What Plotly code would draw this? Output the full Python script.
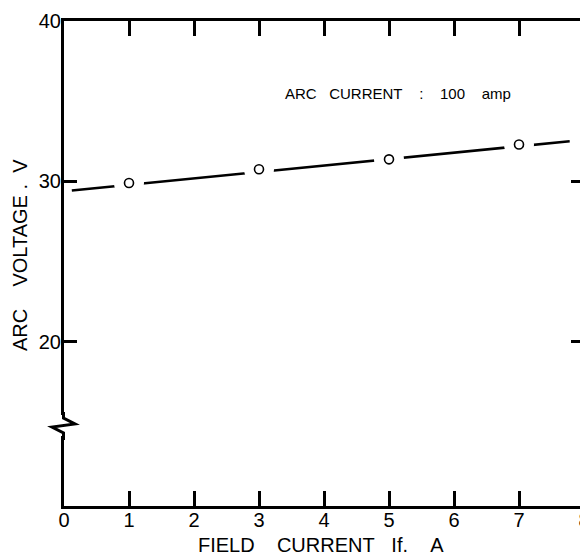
import plotly.graph_objects as go

# data
field_current = [1, 3, 5, 7]
arc_voltage = [29.9, 30.75, 31.37, 32.3]
fit_x = [0.12, 7.78]
fit_y = [29.43, 32.5]
x_ticks = [0, 1, 2, 3, 4, 5, 6, 7, 8]
y_ticks = [20, 30, 40]

Y0, Y1 = 9.75, 40.0

# page has an 8px body margin; work in reference-pixel coordinates
L, R, T, B = 64, 584, 21, 506


def px(X):
    return (X - L) / (R - L)


def pyp(Y):
    return (B - Y) / (B - T)


NB = "\u00a0"

fig = go.Figure()
fig.add_trace(go.Scatter(x=fit_x, y=fit_y, mode="lines",
                         line=dict(color="black", width=2.6), showlegend=False))
# white halos to break the line around markers
fig.add_trace(go.Scatter(x=field_current, y=arc_voltage, mode="markers",
                         marker=dict(size=30, color="white", line=dict(width=0)),
                         showlegend=False))
fig.add_trace(go.Scatter(x=field_current, y=arc_voltage, mode="markers",
                         marker=dict(size=9, color="white", symbol="circle",
                                     line=dict(color="black", width=1.6)),
                         showlegend=False))

font = "Liberation Sans, Arial, sans-serif"

fig.update_xaxes(range=[0, 8], tickvals=x_ticks, ticktext=[str(v) for v in x_ticks],
                 ticks="inside", ticklen=15, tickwidth=2.5, tickcolor="black",
                 showline=True, linewidth=3, linecolor="black", mirror="allticks",
                 showgrid=False, zeroline=False, ticklabelstandoff=-6, automargin=False,
                 ticklabeloverflow="allow",
                 tickfont=dict(family=font, size=20, color="black"))
fig.update_yaxes(range=[Y0, Y1], tickvals=y_ticks, ticktext=[str(v) for v in y_ticks],
                 ticks="inside", ticklen=13, tickwidth=2.5, tickcolor="black",
                 showline=True, linewidth=3, linecolor="black", mirror="allticks",
                 showgrid=False, zeroline=False, ticklabelstandoff=-4, automargin=False,
                 ticklabeloverflow="allow",
                 tickfont=dict(family=font, size=20, color="black"))

shapes = [
    # mask axis for break
    dict(type="rect", xref="paper", yref="paper", x0=px(60), x1=px(67),
         y0=pyp(436), y1=pyp(415), fillcolor="white", line=dict(width=0), layer="above"),
    dict(type="path", xref="paper", yref="paper", layer="above",
         path=(f"M {px(63.5)},{pyp(412)} L {px(63.5)},{pyp(418)} L {px(75)},{pyp(424)} "
               f"L {px(52)},{pyp(427)} L {px(63.5)},{pyp(433)} L {px(63.5)},{pyp(440)}"),
         line=dict(color="black", width=3)),
]

ann_text = f"ARC{NB*3}CURRENT{NB*4}:{NB*4}100{NB*4}amp"
x_title = f"FIELD{NB*4}CURRENT{NB*3}If.{NB*4}A"
y_title = f"ARC{NB*4}VOLTAGE{NB}.{NB*2}V"

fig.update_layout(
    width=580, height=548,
    margin=dict(l=56, r=4, t=13, b=50, autoexpand=False),
    paper_bgcolor="white", plot_bgcolor="white",
    shapes=shapes,
    annotations=[
        dict(text=ann_text, x=px(283), y=pyp(93), xref="paper", yref="paper",
             showarrow=False, font=dict(family=font, size=15, color="black"),
             xanchor="left", yanchor="middle"),
        dict(text=x_title, x=px(196), y=pyp(545), xref="paper", yref="paper",
             showarrow=False, font=dict(family=font, size=20, color="black"),
             xanchor="left", yanchor="middle"),
        dict(text=y_title, x=px(20), y=pyp(255), xref="paper", yref="paper",
             showarrow=False, textangle=-90, font=dict(family=font, size=20, color="black"),
             xanchor="center", yanchor="middle"),
    ],
)

fig.write_html("out.html")
